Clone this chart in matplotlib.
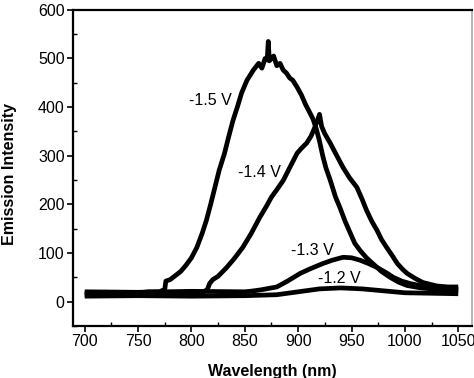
import matplotlib
matplotlib.use("Agg")
import matplotlib.pyplot as plt
from matplotlib.ticker import MultipleLocator

plt.rcParams['font.family'] = ['Liberation Sans', 'DejaVu Sans']

# valores
x15 = [700, 720, 740, 760, 770, 775, 776, 780, 790, 795, 800, 805, 810, 814, 818, 822, 826, 831,
       835, 839, 843, 847, 852, 858, 863, 866, 869, 871, 872, 873, 877, 880, 883, 886, 889, 892,
       895, 899, 903, 907, 911, 914, 917, 920, 923, 926, 930, 935, 939, 944, 949, 953, 958, 964,
       970, 978, 986, 994, 1002, 1015, 1030, 1050]
y15 = [17, 19, 16, 20, 20, 25, 42, 45, 62, 75, 90, 111, 140, 167, 200, 235, 270, 305,
       340, 373, 400, 429, 455, 476, 490, 480, 500, 497, 535, 495, 505, 485, 490, 476, 470, 460,
       455, 441, 425, 405, 388, 375, 355, 330, 300, 275, 250, 215, 194, 165, 140, 120, 105, 90,
       78, 62, 50, 40, 33, 28, 25, 22]

x14 = [700, 730, 760, 790, 810, 815, 817, 820, 825, 833, 840, 848, 856, 864, 870, 875, 880, 886,
       892, 899, 903, 908, 912, 915, 918, 920, 922, 925, 930, 935, 942, 948, 955, 960, 964, 969,
       974, 978, 983, 988, 993, 998, 1002, 1010, 1017, 1030, 1040, 1050]
y14 = [13, 15, 14, 16, 18, 25, 37, 45, 52, 70, 88, 111, 140, 173, 195, 215, 230, 249,
       275, 305, 315, 326, 340, 355, 372, 385, 360, 345, 326, 305, 276, 255, 235, 210, 188, 165,
       146, 128, 111, 95, 78, 66, 58, 47, 39, 32, 30, 30]

x13 = [700, 750, 800, 850, 855, 865, 875, 880, 890, 902, 912, 923, 932, 942, 950, 958, 966, 974,
       982, 989, 997, 1005, 1020, 1035, 1050]
y13 = [20, 19, 21, 20, 21, 24, 28, 30, 42, 58, 68, 78, 85, 91, 90, 85, 78, 70,
       60, 50, 42, 37, 30, 27, 25]

x12 = [700, 750, 800, 850, 880, 900, 920, 940, 960, 980, 1000, 1050]
y12 = [11, 12, 11, 12, 14, 20, 26, 28, 26, 22, 18, 16]

series = [(x15, y15), (x14, y14), (x13, y13), (x12, y12)]
labels = ['-1.5 V', '-1.4 V', '-1.3 V', '-1.2 V']
label_pos = [(818, 414), (864, 266), (913, 105), (939, 47)]

fig = plt.figure(figsize=(4.74, 3.78), dpi=100)
ax = fig.add_axes([0.154, 0.138, 0.842, 0.836])

for xs, ys in series:
    ax.plot(xs, ys, color='black', lw=3.4, solid_joinstyle='round', solid_capstyle='butt')

for lab, (lx, ly) in zip(labels, label_pos):
    ax.text(lx, ly, lab, fontsize=11.5, ha='center', va='center')

ax.set_xlim(689, 1063)
ax.set_ylim(-50, 600)
ax.xaxis.set_major_locator(MultipleLocator(50))
ax.xaxis.set_minor_locator(MultipleLocator(25))
ax.yaxis.set_major_locator(MultipleLocator(100))
ax.yaxis.set_minor_locator(MultipleLocator(50))
ax.tick_params(which='major', direction='out', length=4, width=1.2, labelsize=11.5, pad=2)
ax.tick_params(which='minor', direction='in', length=3, width=1.0)

for s in ['left', 'bottom', 'top']:
    ax.spines[s].set_linewidth(1.6)
ax.spines['right'].set_color('#aaaaaa')
ax.spines['right'].set_linewidth(1.2)

ax.set_xlabel('Wavelength (nm)', fontsize=11.5, fontweight='bold')
ax.set_ylabel('Emission Intensity', fontsize=11.5, fontweight='bold')
ax.xaxis.set_label_coords(0.5, -0.12)
ax.yaxis.set_label_coords(-0.14, 0.48)

fig.savefig('out.png', dpi=100)
